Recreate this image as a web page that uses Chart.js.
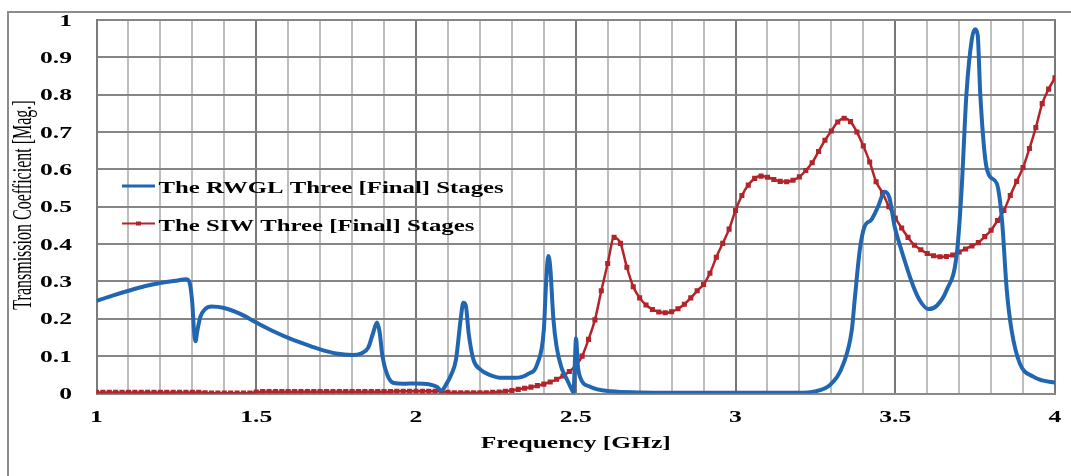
<!DOCTYPE html>
<html>
<head>
<meta charset="utf-8">
<script src="https://cdn.jsdelivr.net/npm/chart.js@4.4.1/dist/chart.umd.min.js"></script>
<style>
  html, body { margin: 0; padding: 0; background: #fff; overflow: hidden; }
  #wrap { position: relative; width: 1071px; height: 476px; }
  #gridLayer { position: absolute; left: 0; top: 0; width: 1071px; height: 476px; z-index: 0; }
  #gridLayer div { position: absolute; }
  #myChart { position: absolute; left: 0; top: 0; z-index: 1; display: block; }
</style>
</head>
<body>
<div id="wrap">
  <div id="gridLayer"></div>
  <canvas id="myChart" width="1071" height="476"></canvas>
</div>
<script>
// RWGL three (final) stages
const rwglFreq = [1.00, 1.05, 1.10, 1.15, 1.20, 1.25, 1.28, 1.29, 1.30, 1.305,
  1.31, 1.315, 1.325, 1.34, 1.36, 1.40, 1.45, 1.50, 1.55, 1.60,
  1.65, 1.70, 1.75, 1.80, 1.83, 1.85, 1.865, 1.878, 1.886, 1.895,
  1.91, 1.93, 1.96, 2.00, 2.04, 2.065, 2.08, 2.095, 2.11, 2.125,
  2.14, 2.148, 2.156, 2.165, 2.18, 2.20, 2.23, 2.27, 2.31, 2.35,
  2.38, 2.40, 2.408, 2.414, 2.42, 2.43, 2.44, 2.455, 2.47, 2.485,
  2.493, 2.497, 2.501, 2.506, 2.513, 2.545, 2.61, 2.70, 2.80, 3.00,
  3.20, 3.244, 3.296, 3.338, 3.364, 3.373, 3.389, 3.404, 3.425, 3.446,
  3.467, 3.482, 3.498, 3.516, 3.557, 3.58, 3.604, 3.63, 3.661, 3.692,
  3.707, 3.723, 3.74, 3.75, 3.758, 3.766, 3.782, 3.797, 3.818, 3.834,
  3.849, 3.864, 3.89, 3.932, 3.96, 4.00]
const rwglMag = [0.248, 0.262, 0.275, 0.287, 0.296, 0.302, 0.306, 0.300, 0.24, 0.17,
  0.14, 0.165, 0.205, 0.226, 0.233, 0.229, 0.213, 0.190, 0.168, 0.149,
  0.133, 0.118, 0.107, 0.103, 0.108, 0.122, 0.16, 0.19, 0.165, 0.10,
  0.05, 0.028, 0.026, 0.027, 0.025, 0.018, 0.008, 0.025, 0.05, 0.09,
  0.20, 0.243, 0.235, 0.16, 0.09, 0.065, 0.05, 0.042, 0.042, 0.052,
  0.08, 0.17, 0.31, 0.368, 0.34, 0.20, 0.125, 0.07, 0.042, 0.015,
  0.003, 0.08, 0.148, 0.08, 0.045, 0.018, 0.006, 0.003, 0.002, 0.002,
  0.002, 0.005, 0.023, 0.08, 0.17, 0.25, 0.384, 0.447, 0.465, 0.50,
  0.54, 0.523, 0.447, 0.393, 0.286, 0.245, 0.226, 0.235, 0.277, 0.37,
  0.536, 0.804, 0.95, 0.975, 0.96, 0.804, 0.625, 0.58, 0.562, 0.465,
  0.277, 0.17, 0.08, 0.045, 0.035, 0.029]

// SIW three (final) stages
const siwFreq = [1.00, 1.02, 1.04, 1.06, 1.08, 1.10, 1.12, 1.14, 1.16, 1.18,
  1.20, 1.22, 1.24, 1.26, 1.28, 1.30, 1.32, 1.34, 1.36, 1.38,
  1.40, 1.42, 1.44, 1.46, 1.48, 1.50, 1.52, 1.54, 1.56, 1.58,
  1.60, 1.62, 1.64, 1.66, 1.68, 1.70, 1.72, 1.74, 1.76, 1.78,
  1.80, 1.82, 1.84, 1.86, 1.88, 1.90, 1.92, 1.94, 1.96, 1.98,
  2.00, 2.02, 2.04, 2.06, 2.08, 2.10, 2.12, 2.14, 2.16, 2.18,
  2.20, 2.22, 2.24, 2.26, 2.28, 2.30, 2.32, 2.34, 2.36, 2.38,
  2.40, 2.42, 2.44, 2.46, 2.48, 2.50, 2.52, 2.54, 2.56, 2.58,
  2.60, 2.62, 2.64, 2.66, 2.68, 2.70, 2.72, 2.74, 2.76, 2.78,
  2.80, 2.82, 2.84, 2.86, 2.88, 2.90, 2.92, 2.94, 2.96, 2.98,
  3.00, 3.02, 3.04, 3.06, 3.08, 3.10, 3.12, 3.14, 3.16, 3.18,
  3.20, 3.22, 3.24, 3.26, 3.28, 3.30, 3.32, 3.34, 3.36, 3.38,
  3.40, 3.42, 3.44, 3.46, 3.48, 3.50, 3.52, 3.54, 3.56, 3.58,
  3.60, 3.62, 3.64, 3.66, 3.68, 3.70, 3.72, 3.74, 3.76, 3.78,
  3.80, 3.82, 3.84, 3.86, 3.88, 3.90, 3.92, 3.94, 3.96, 3.98,
  4.00]
const siwMag = [0.003, 0.003, 0.003, 0.003, 0.003, 0.003, 0.003, 0.003, 0.003, 0.003,
  0.003, 0.003, 0.003, 0.003, 0.003, 0.003, 0.003, 0.002, 0.001, 0.001,
  0.001, 0.001, 0.001, 0.001, 0.001, 0.004, 0.005, 0.005, 0.005, 0.005,
  0.005, 0.005, 0.005, 0.005, 0.005, 0.005, 0.005, 0.005, 0.005, 0.005,
  0.005, 0.005, 0.005, 0.005, 0.005, 0.005, 0.005, 0.006, 0.006, 0.006,
  0.006, 0.006, 0.006, 0.006, 0.006, 0.003, 0.002, 0.002, 0.002, 0.002,
  0.002, 0.002, 0.003, 0.004, 0.006, 0.008, 0.011, 0.014, 0.017, 0.021,
  0.025, 0.031, 0.038, 0.047, 0.059, 0.075, 0.10, 0.145, 0.197, 0.275,
  0.348, 0.418, 0.402, 0.338, 0.286, 0.256, 0.237, 0.225, 0.218, 0.216,
  0.219, 0.227, 0.239, 0.256, 0.275, 0.292, 0.322, 0.365, 0.402, 0.44,
  0.49, 0.53, 0.558, 0.576, 0.582, 0.579, 0.573, 0.568, 0.567, 0.571,
  0.58, 0.597, 0.618, 0.648, 0.678, 0.703, 0.727, 0.737, 0.728, 0.70,
  0.663, 0.62, 0.567, 0.538, 0.50, 0.47, 0.443, 0.418, 0.397, 0.385,
  0.375, 0.369, 0.366, 0.367, 0.371, 0.379, 0.387, 0.395, 0.404, 0.42,
  0.437, 0.463, 0.49, 0.53, 0.568, 0.605, 0.656, 0.712, 0.776, 0.815,
  0.845]

const seriesNames = ["The RWGL Three [Final] Stages", "The SIW Three [Final] Stages"]
const xTickValues = [1, 1.5, 2, 2.5, 3, 3.5, 4]
const xTickLabels = ["1", "1.5", "2", "2.5", "3", "3.5", "4"]
const yTickValues = [0, 0.1, 0.2, 0.3, 0.4, 0.5, 0.6, 0.7, 0.8, 0.9, 1]
const yTickLabels = ["0", "0.1", "0.2", "0.3", "0.4", "0.5", "0.6", "0.7", "0.8", "0.9", "1"]
const xGridValues = [1.1, 1.2, 1.3, 1.4, 1.6, 1.7, 1.8, 1.9, 2.1, 2.2, 2.3, 2.4, 2.6, 2.7,
  2.8, 2.9, 3.1, 3.2, 3.3, 3.4, 3.6, 3.7, 3.8, 3.9]
const xTitle = "Frequency [GHz]"
const yTitle = "Transmission Coefficient [Mag.]"

const blue = "#2166b1"
const red = "#b3242a"
const ctx = document.getElementById('myChart')
const gridLayer = document.getElementById('gridLayer')

function isHalf(v) {
    return Math.abs(v * 2 - Math.round(v * 2)) < 1e-6
}

// text in the picture is stretched sideways, so draw it scaled
function wideText(c, text, x, y, font, align, sx) {
    c.save()
    c.font = font
    c.textBaseline = 'alphabetic'
    c.textAlign = 'left'
    let w = c.measureText(text).width * sx
    let left = align === 'center' ? x - w / 2 : (align === 'right' ? x - w : x)
    c.translate(left, y)
    c.scale(sx, 1)
    c.fillStyle = '#000'
    c.fillText(text, 0, 0)
    c.restore()
}

function addBar(left, top, width, height, color) {
    const d = document.createElement('div')
    d.style.left = left + 'px'
    d.style.top = top + 'px'
    d.style.width = width + 'px'
    d.style.height = height + 'px'
    d.style.background = color
    gridLayer.appendChild(d)
}

// grid lines as page elements behind the transparent canvas
function buildGrid(chart) {
    gridLayer.innerHTML = ''
    const xs = chart.scales.x
    const ys = chart.scales.y
    const left = Math.round(xs.getPixelForValue(1))
    const right = Math.round(xs.getPixelForValue(4))
    const top = Math.round(ys.getPixelForValue(1))
    const bottom = Math.round(ys.getPixelForValue(0))
    addBar(7, 11, 2000, 2, '#8c8c8c')
    addBar(7, 11, 2, 1000, '#8c8c8c')
    xGridValues.forEach(v => addBar(Math.round(xs.getPixelForValue(v)) - 1, top, 2, bottom - top + 1, '#bdbdbd'))
    yTickValues.forEach(v => addBar(left, Math.round(ys.getPixelForValue(v)) - 1, right - left + 1, 2, '#868686'))
    xTickValues.forEach(v => addBar(Math.round(xs.getPixelForValue(v)) - 1, top, 2, bottom - top + 1, '#777777'))
}

const textPlugin = {
    id: 'textPlugin',
    afterDraw(chart) {
        const c = chart.ctx
        const xs = chart.scales.x
        const ys = chart.scales.y
        const tickFont = 'bold 16px "Liberation Serif"'

        yTickValues.forEach((v, i) => {
            wideText(c, yTickLabels[i], 72, ys.getPixelForValue(v) + 5.5, tickFont, 'right', 1.6)
        })
        xTickValues.forEach((v, i) => {
            wideText(c, xTickLabels[i], xs.getPixelForValue(v), 421.5, tickFont, 'center', 1.6)
        })
        wideText(c, xTitle, (chart.chartArea.left + chart.chartArea.right) / 2, 448,
            'bold 17px "Liberation Serif"', 'center', 1.5)

        // y title, rotated
        c.save()
        c.translate(23.5, 205)
        c.rotate(-Math.PI / 2)
        c.scale(1, 1.7)
        c.font = '16px "Liberation Serif"'
        c.textAlign = 'center'
        c.textBaseline = 'middle'
        c.fillStyle = '#000'
        c.fillText(yTitle, 0, 0)
        c.restore()

        // legend inside the plot
        const legendFont = 'bold 16.5px "Liberation Serif"'
        c.save()
        c.fillStyle = blue
        c.fillRect(122, 184.5, 33, 3)
        c.fillStyle = red
        c.fillRect(122, 222.5, 33, 2)
        c.fillRect(136, 221.5, 5, 4)
        c.restore()
        wideText(c, seriesNames[0], 158.5, 192.5, legendFont, 'left', 1.5)
        wideText(c, seriesNames[1], 158.5, 231, legendFont, 'left', 1.5)
    }
}

const chart = new Chart(ctx, {
    type: 'line',
    data: {
        datasets: [{
            label: seriesNames[0],
            data: rwglFreq.map((f, i) => ({ x: f, y: rwglMag[i] })),
            borderColor: blue,
            borderWidth: 4,
            pointRadius: 0,
            fill: false,
            cubicInterpolationMode: 'monotone'
        }, {
            label: seriesNames[1],
            data: siwFreq.map((f, i) => ({ x: f, y: siwMag[i] })),
            borderColor: red,
            backgroundColor: red,
            borderWidth: 2.5,
            pointStyle: 'rect',
            pointRadius: 3.6,
            pointBorderWidth: 0,
            pointBackgroundColor: red,
            fill: false,
            cubicInterpolationMode: 'monotone'
        }]
    },
    options: {
        responsive: false,
        animation: false,
        devicePixelRatio: 1,
        layout: { padding: { left: 0, top: 20, right: 16, bottom: 0 } },
        plugins: {
            legend: { display: false },
            tooltip: { enabled: false }
        },
        scales: {
            x: {
                type: 'linear',
                min: 1,
                max: 4,
                ticks: { stepSize: 0.1, color: 'rgba(0,0,0,0)', autoSkip: false, maxRotation: 0, font: { size: 1 } },
                grid: {
                    drawTicks: false,
                    color: (c) => c.tick && isHalf(c.tick.value) ? '#777777' : '#bdbdbd',
                    lineWidth: 2
                },
                border: { color: '#8a8a8a', width: 1.5 },
                afterFit: (scale) => { scale.height = 82.5 }
            },
            y: {
                min: 0,
                max: 1,
                ticks: { stepSize: 0.1, color: 'rgba(0,0,0,0)', font: { size: 1 } },
                grid: { drawTicks: false, color: '#868686', lineWidth: 2 },
                border: { color: '#7d7d7d', width: 1.5 },
                afterFit: (scale) => { scale.width = 96.5 }
            }
        }
    },
    plugins: [textPlugin]
});

buildGrid(chart)
</script>
</body>
</html>
